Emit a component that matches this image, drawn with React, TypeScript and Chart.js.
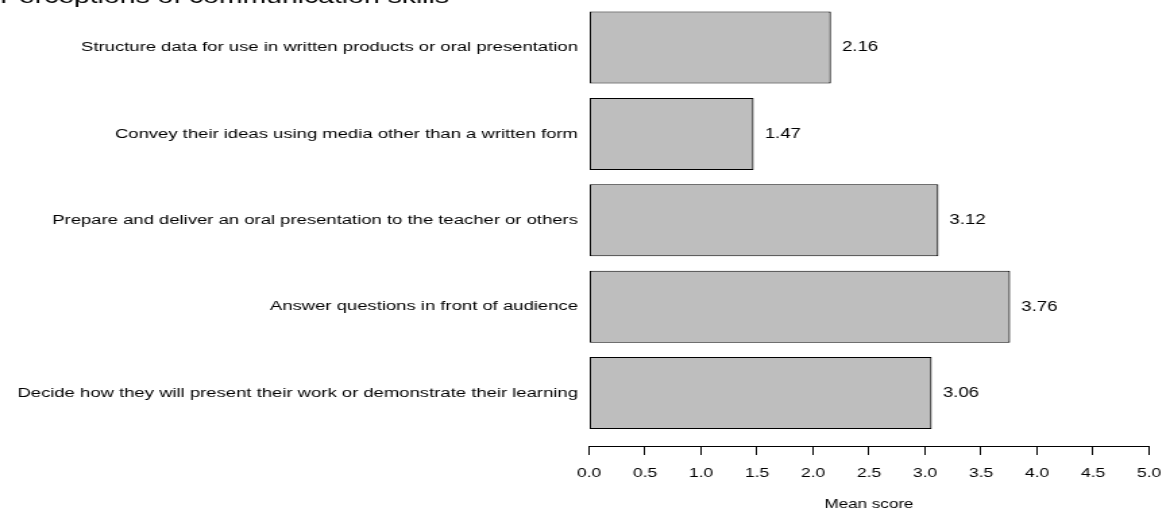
import React, { useEffect, useRef } from "react";
import { Chart, registerables } from "chart.js";

Chart.register(...registerables);

// ---------- data ----------
const chartTitle = "Perceptions of communication skills";
const categories = [
  "Structure data for use in written products or oral presentation",
  "Convey their ideas using media other than a written form",
  "Prepare and deliver an oral presentation to the teacher or others",
  "Answer questions in front of audience",
  "Decide how they will present their work or demonstrate their learning",
];
const meanScores = [2.16, 1.47, 3.12, 3.76, 3.06];
const xTickValues = [0, 0.5, 1, 1.5, 2, 2.5, 3, 3.5, 4, 4.5, 5];
const xAxisTitle = "Mean score";

// ---------- layout (canvas pixels; the bitmap is stretched horizontally) ----------
const PAGE_W = 1170;
const PAGE_H = 512;
const CANVAS_W = 867;
const STRETCH = PAGE_W / CANVAS_W;
const PLOT_LEFT = 589 / STRETCH;
const PLOT_RIGHT_PAD = (PAGE_W - 1149) / STRETCH;
const PLOT_BOTTOM = 446;
const X_AXIS_H = PAGE_H - PLOT_BOTTOM;
const ROW_PITCH = 86.4;
const FIRST_ROW_CENTER = 47.5;
const Y_MIN = -FIRST_ROW_CENTER / ROW_PITCH;
const Y_MAX = Y_MIN + PLOT_BOTTOM / ROW_PITCH;
const FONT = "'Liberation Sans', Arial, Helvetica, sans-serif";

const valueLabels = {
  id: "valueLabels",
  afterDatasetsDraw(chart: any) {
    const ctx = chart.ctx;
    const meta = chart.getDatasetMeta(0);
    ctx.save();
    ctx.font = `13.8px ${FONT}`;
    ctx.fillStyle = "#000";
    ctx.textAlign = "left";
    ctx.textBaseline = "middle";
    meta.data.forEach((el: any, i: number) => {
      const { x, y } = el.getProps(["x", "y"], true);
      ctx.fillText(meanScores[i].toFixed(2), x + 8.2, y);
    });
    ctx.restore();
  },
};

export default function App() {
  const canvasRef = useRef<HTMLCanvasElement | null>(null);

  useEffect(() => {
    if (!canvasRef.current) return;
    const chart = new Chart(canvasRef.current, {
      type: "bar",
      data: {
        datasets: [
          {
            data: meanScores.map((v, i) => ({ x: v, y: i })),
            backgroundColor: "#BEBEBE",
            borderColor: "#000",
            borderWidth: { left: 1.2, right: 1.2, top: 1, bottom: 1 },
            borderSkipped: false,
            inflateAmount: 0,
            categoryPercentage: 1,
            barPercentage: 1 / 1.2,
          } as any,
        ],
      },
      options: {
        indexAxis: "y",
        responsive: false,
        animation: false,
        devicePixelRatio: 1,
        layout: { padding: { left: 0, right: PLOT_RIGHT_PAD, top: 0, bottom: 0 } },
        plugins: {
          legend: { display: false },
          tooltip: { enabled: false },
          title: {
            display: true,
            text: chartTitle,
            align: "start",
            color: "#000",
            font: { family: FONT, size: 21, weight: "normal" },
            padding: { top: -14.9, bottom: -10.3 },
          },
        },
        scales: {
          x: {
            type: "linear",
            position: "bottom",
            min: 0,
            max: 5,
            bounds: "data",
            offset: false,
            afterBuildTicks: (s: any) => {
              s.ticks = xTickValues.map((v) => ({ value: v }));
            },
            afterFit: (s: any) => {
              s.height = X_AXIS_H;
              s.paddingLeft = 0;
              s.paddingRight = 0;
            },
            ticks: {
              callback: (v: any) => Number(v).toFixed(1),
              color: "#000",
              font: { family: FONT, size: 13 },
              padding: 11,
              autoSkip: false,
              maxRotation: 0,
            },
            grid: {
              display: true,
              drawOnChartArea: false,
              drawTicks: true,
              tickLength: 9,
              color: "#000",
              lineWidth: 1,
            },
            border: { display: true, color: "#000", width: 1 },
            title: {
              display: true,
              text: xAxisTitle,
              color: "#000",
              font: { family: FONT, size: 12.6 },
              padding: { top: 0, bottom: 0 },
            },
          },
          y: {
            type: "linear",
            reverse: true,
            offset: false,
            min: Y_MIN,
            max: Y_MAX,
            bounds: "data",
            afterBuildTicks: (s: any) => {
              s.ticks = categories.map((_, i) => ({ value: i }));
            },
            afterFit: (s: any) => {
              s.width = PLOT_LEFT;
              s.paddingTop = 0;
              s.paddingBottom = 0;
            },
            ticks: {
              callback: (v: any) => categories[Math.round(Number(v))],
              color: "#000",
              font: { family: FONT, size: 13.7 },
              padding: 8.2,
              autoSkip: false,
            },
            grid: { display: false, drawTicks: false, offset: false },
            border: { display: false },
          },
        },
      } as any,
      plugins: [valueLabels],
    });
    return () => chart.destroy();
  }, []);

  return (
    <div style={{ position: "fixed", left: 0, top: 0, width: PAGE_W, height: PAGE_H, background: "#fff" }}>
      <canvas
        ref={canvasRef}
        width={CANVAS_W}
        height={PAGE_H}
        style={{ display: "block", width: PAGE_W + "px", height: PAGE_H + "px" }}
      />
    </div>
  );
}
